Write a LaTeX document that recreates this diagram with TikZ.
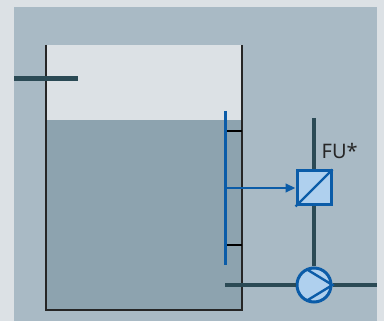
\documentclass[tikz,border=0pt]{standalone}
\usepackage{fontspec}
\setmainfont{Noto Sans}
\usetikzlibrary{arrows.meta}
\definecolor{paleGrey}{HTML}{DCE1E5}
\definecolor{panelGrey}{HTML}{A9BAC5}
\definecolor{liquidGrey}{HTML}{8DA3AF}
\definecolor{pipeTeal}{HTML}{2B4A55}
\definecolor{signalBlue}{HTML}{0B5CA8}
\definecolor{deviceBlue}{HTML}{AFD0EE}
\tikzset{
pipe/.style={draw=pipeTeal,line width=4.2pt},
signal/.style={draw=signalBlue,line width=3pt},
device/.style={draw=signalBlue,line width=3pt,fill=deviceBlue,inner sep=0pt}
}
\begin{document}
\begin{tikzpicture}[x=1pt,y=-1pt]
\useasboundingbox (0,0) rectangle (384,321);
\fill[paleGrey] (0,0) rectangle (384,321);
\fill[panelGrey] (14,7) rectangle (377,321);
\fill[paleGrey] (46,45) rectangle (242,120.5);
\fill[liquidGrey] (46,120.5) rectangle (242,310);
\draw[line width=2pt,black!85] (46,45) -- (46,310) -- (242,310) -- (242,45);
\foreach \y in {131,245}
{
\draw[line width=2.6pt,black] (226,\y) -- (242,\y);
}
\coordinate (inletA) at (14,78.6);
\coordinate (inletB) at (78,78.6);
\coordinate (feedTop) at (314,118);
\coordinate (suction) at (225,285);
\coordinate (outlet) at (377,285);
\coordinate (rodTop) at (225,111);
\coordinate (rodBottom) at (225,265);
\coordinate (rodTap) at (225,188);
\node[device,minimum size=34pt,rectangle] (fu) at (314,188) {};
\node[device,minimum size=34pt,circle] (pump) at (314,285) {};
\node[anchor=base west,inner sep=0pt,font=\fontsize{20}{20}\selectfont,text=black!85] (fuLabel) at (321.5,159) {FU*};
\draw[pipe] (inletA) -- (inletB);
\draw[pipe] (feedTop) -- (fu);
\draw[pipe] (fu) -- (pump);
\draw[pipe] (suction) -- (pump);
\draw[pipe] (pump) -- (outlet);
\draw[signal] (rodTop) -- (rodBottom);
\draw[signal,line width=2.8pt,-{Triangle[length=10pt,width=8.5pt]}] (rodTap) -- (fu);
\draw[signal,line width=2.4pt] (fu.south west) -- (fu.north east);
\draw[signal,line width=2.4pt] (306.7,269.3) -- (pump.east) -- (306.7,300.7);
\end{tikzpicture}
\end{document}
